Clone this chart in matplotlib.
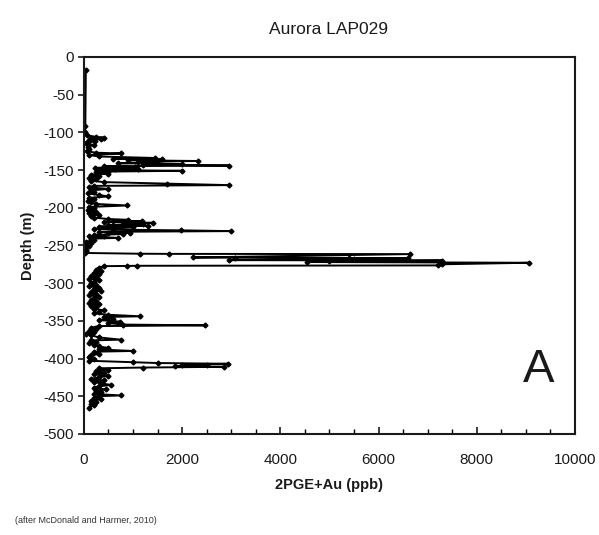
import numpy as np
import matplotlib
matplotlib.use('Agg')
from matplotlib import pyplot as plt
from matplotlib.ticker import MultipleLocator

plt.rcParams['font.family'] = ['Liberation Sans', 'DejaVu Sans']
plt.rcParams['axes.unicode_minus'] = False

# depth (m) / 2PGE+Au (ppb)
depth = [-17, -92, -100, -104, -106, -107, -108, -109, -110, -112, -114, -117, -119, -122,
         -125, -127, -128, -130, -132, -134, -135, -136, -137, -138, -139, -140, -141, -142,
         -143, -144, -145, -146, -147, -148, -149, -150, -151, -152, -153, -155, -156, -158,
         -160, -162, -164, -166, -168, -170, -171, -173, -175, -177, -179, -181, -183, -185,
         -187, -189, -191, -193, -195, -197, -199, -201, -203, -205, -207, -209, -211, -213,
         -215, -216, -217, -218, -219, -220, -221, -222, -223, -224, -225, -226, -228, -229,
         -230, -231, -232, -233, -234, -235, -236, -237, -238, -240, -241, -243, -245, -247,
         -249, -251, -253, -256, -258, -260, -261, -261.2, -261.5, -266, -266.3, -266.6, -267,
         -268, -269.5, -270, -271, -272, -273, -275, -276.5, -277, -277.2, -277.5, -280, -282,
         -284, -286, -288, -290, -292, -294, -296, -298, -300, -302, -304, -306, -308, -310,
         -312, -314, -316, -318, -320, -322, -324, -326, -328, -330, -332, -334, -336, -338,
         -340, -342, -344, -345, -347, -349, -351, -353, -355, -356, -357, -359, -361, -363,
         -365, -367, -369, -372, -375, -376, -378, -380, -382, -384, -386, -388, -390, -391,
         -394, -396, -398, -401, -403, -405, -406, -407, -408, -409, -410, -411, -412, -413,
         -415, -417, -419, -421, -423, -425, -427, -429, -431, -433, -435, -437, -439, -441,
         -443, -445, -447, -449, -450, -452, -454, -456, -458, -460, -462, -465]
ppb = [40, 30, 20, 60, 250, 400, 150, 350, 100, 220, 50, 200, 80, 100,
       60, 250, 750, 100, 300, 1450, 600, 1600, 900, 2330, 1100, 1500, 700, 2000,
       1200, 2950, 400, 1050, 220, 630, 1100, 300, 2000, 500, 250, 500, 150, 300,
       100, 250, 150, 400, 1700, 2960, 200, 100, 500, 150, 200, 80, 300, 500,
       100, 200, 80, 150, 250, 880, 100, 200, 80, 250, 100, 300, 150, 200,
       500, 900, 600, 1180, 400, 1400, 800, 1200, 500, 1300, 300, 1000, 200, 600,
       1980, 3000, 300, 940, 500, 800, 200, 400, 100, 700, 150, 200, 50, 150,
       30, 100, 20, 50, 40, 30, 1140, 1735, 6630, 2220, 3080, 5400, 6600,
       5500, 2950, 7300, 5000, 4550, 9060, 7300, 7200, 1080, 870, 400, 300, 250,
       350, 200, 300, 150, 250, 100, 300, 200, 150, 250, 100, 300, 200, 350,
       150, 250, 100, 300, 200, 150, 250, 100, 300, 150, 250, 200, 400, 300,
       200, 500, 1150, 400, 600, 300, 730, 500, 800, 2470, 300, 150, 250, 100,
       200, 50, 150, 300, 750, 150, 250, 100, 200, 300, 500, 300, 1000, 200,
       300, 150, 100, 200, 100, 1000, 1500, 2940, 2000, 2500, 1860, 2850, 1200, 300,
       500, 250, 400, 200, 500, 300, 150, 400, 200, 350, 550, 300, 200, 450,
       250, 350, 200, 750, 300, 200, 350, 150, 250, 150, 200, 100]

xticks = [0, 2000, 4000, 6000, 8000, 10000]
yticks = [0, -50, -100, -150, -200, -250, -300, -350, -400, -450, -500]

ink = '#1a1a1a'
fig = plt.figure(figsize=(5.99, 5.35), dpi=100)
ax = fig.add_axes([0.140, 0.189, 0.820, 0.7045])

ax.plot(ppb, depth, color='black', lw=1.4, marker='D', ms=2.5, mfc='black', mec='black')

ax.set_xlim(0, 10000)
ax.set_ylim(-500, 0)
ax.set_xticks(xticks)
ax.set_yticks(yticks)
ax.xaxis.set_minor_locator(MultipleLocator(500))
ax.tick_params(axis='x', which='major', direction='in', length=5, width=1.2, pad=14,
               labelsize=11, colors=ink)
ax.tick_params(axis='x', which='minor', direction='in', length=3.5, width=1.0)
ax.tick_params(axis='y', which='major', direction='out', length=4, width=1.2, pad=3,
               labelsize=11, colors=ink)
for s in ax.spines.values():
    s.set_linewidth(1.5)
    s.set_color(ink)

ax.set_xlabel('2PGE+Au (ppb)', fontsize=10.5, fontweight='bold', color=ink, labelpad=8)
ax.set_ylabel('Depth (m)', fontsize=10.5, fontweight='bold', color=ink, labelpad=6)
fig.text(0.5487, 0.945, 'Aurora LAP029', ha='center', va='center', fontsize=12.5, color=ink)
ax.text(9250, -415, 'A', ha='center', va='center', fontsize=34, color=ink)
fig.text(0.025, 0.028, '(after McDonald and Harmer, 2010)', ha='left', va='center',
         fontsize=6.5, color='#333333')

fig.savefig('out.png', dpi=100)
